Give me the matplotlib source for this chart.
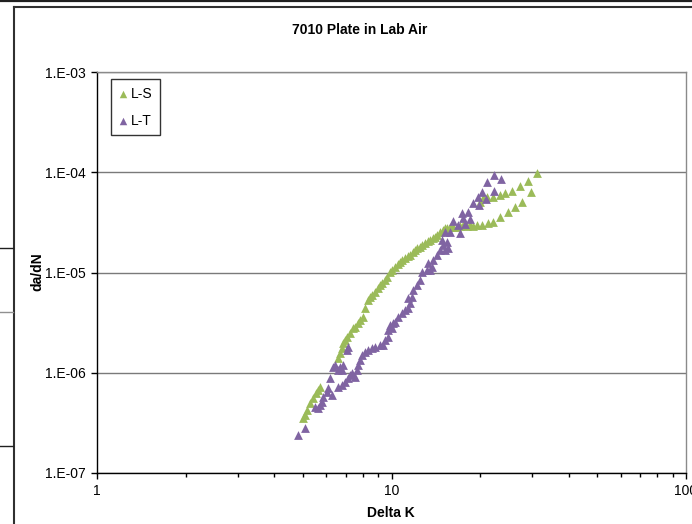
import matplotlib
matplotlib.use("Agg")
import matplotlib.pyplot as plt
from matplotlib.lines import Line2D
from matplotlib.ticker import FixedLocator, NullFormatter

plt.rcParams['font.family'] = ['Liberation Sans', 'DejaVu Sans']

# L-S orientation : Delta K et da/dN
ls_dk = [5.01, 5.09, 5.17, 5.29, 5.41, 5.54, 5.63, 5.72,
         6.58, 6.69, 6.79, 6.84, 6.95, 7.06, 7.23, 7.40, 7.52, 7.70, 7.82, 8.00,
         8.13, 8.32, 8.45, 8.59, 8.79, 9.00, 9.14, 9.29, 9.50, 9.65, 9.88, 10.04,
         10.28, 10.52, 10.69, 10.86, 11.11, 11.38, 11.56, 11.83, 12.02, 12.21,
         12.50, 12.70, 13.00, 13.31, 13.51, 13.83, 14.05, 14.27, 14.61, 14.96,
         15.19, 15.43, 15.80, 16.18, 16.69, 17.08, 17.49, 18.0, 18.48, 18.92,
         19.52, 20.29, 21.27, 22.11, 23.36, 24.86, 26.27, 27.74, 29.77,
         19.98, 20.45, 21.10, 22.11, 23.36, 24.29, 25.66, 27.31, 29.08, 31.20]
ls_dadn = [3.54e-7, 3.79e-7, 4.25e-7, 4.99e-7, 5.60e-7, 6.28e-7, 6.73e-7, 7.21e-7,
           1.40e-6, 1.57e-6, 1.77e-6, 1.98e-6, 2.12e-6, 2.27e-6, 2.49e-6, 2.80e-6,
           2.86e-6, 3.14e-6, 3.36e-6, 3.60e-6, 4.42e-6, 5.32e-6, 5.69e-6, 5.96e-6,
           6.39e-6, 7.00e-6, 7.50e-6, 7.86e-6, 8.42e-6, 9.02e-6, 1.01e-5, 1.06e-5,
           1.13e-5, 1.22e-5, 1.27e-5, 1.33e-5, 1.40e-5, 1.46e-5, 1.50e-5, 1.60e-5,
           1.68e-5, 1.76e-5, 1.80e-5, 1.88e-5, 1.97e-5, 2.06e-5, 2.11e-5, 2.21e-5,
           2.26e-5, 2.37e-5, 2.54e-5, 2.65e-5, 2.78e-5, 2.78e-5, 2.84e-5, 2.84e-5,
           2.84e-5, 2.91e-5, 2.98e-5, 2.91e-5, 2.98e-5, 2.91e-5, 2.98e-5, 2.98e-5,
           3.12e-5, 3.19e-5, 3.58e-5, 4.01e-5, 4.50e-5, 5.05e-5, 6.35e-5,
           5.05e-5, 5.53e-5, 5.66e-5, 5.66e-5, 5.93e-5, 6.21e-5, 6.50e-5, 7.29e-5,
           8.18e-5, 9.83e-5]

# L-T orientation
lt_dk = [4.81, 5.09, 5.50, 5.63, 5.72, 5.81, 5.85, 6.04, 6.09, 6.28, 6.18,
         6.33, 6.43, 6.58, 6.69, 6.79, 6.84, 7.06, 7.12,
         6.58, 6.79, 6.95, 7.12, 7.23, 7.34, 7.52, 7.64, 7.70, 7.82, 7.94, 8.13,
         8.32, 8.59, 8.79, 9.14, 9.36, 9.50, 9.73, 9.73, 9.88, 10.04, 10.12,
         10.28, 10.52, 10.86, 11.11, 11.38, 11.56, 11.38, 11.74, 11.83, 12.21,
         12.50, 12.70, 13.20, 13.51, 13.73, 13.31, 13.83, 14.27, 14.61, 14.96,
         15.19, 15.55, 15.43, 14.84, 15.19, 15.80, 16.18, 16.82, 17.08, 17.35,
         17.49, 17.77, 18.19, 18.48, 18.92, 19.67, 19.83, 20.29, 20.94, 21.10,
         22.29, 22.29, 23.54]
lt_dadn = [2.39e-7, 2.81e-7, 4.55e-7, 4.45e-7, 4.77e-7, 5.11e-7, 5.73e-7, 6.43e-7,
           7.04e-7, 6.00e-7, 8.86e-7,
           1.14e-6, 1.20e-6, 1.07e-6, 1.14e-6, 1.07e-6, 1.20e-6, 1.69e-6, 1.81e-6,
           7.21e-7, 7.55e-7, 8.09e-7, 8.86e-7, 9.50e-7, 9.94e-7, 9.07e-7, 1.07e-6,
           1.20e-6, 1.34e-6, 1.50e-6, 1.61e-6, 1.69e-6, 1.77e-6, 1.81e-6, 1.89e-6,
           1.89e-6, 2.12e-6, 2.27e-6, 2.67e-6, 2.99e-6, 2.80e-6, 3.14e-6, 3.21e-6,
           3.60e-6, 3.94e-6, 4.23e-6, 4.42e-6, 4.96e-6, 5.57e-6, 5.69e-6, 6.69e-6,
           7.50e-6, 8.42e-6, 1.01e-5, 1.06e-5, 1.06e-5, 1.13e-5, 1.24e-5, 1.33e-5,
           1.50e-5, 1.68e-5, 1.88e-5, 1.68e-5, 1.76e-5, 2.01e-5, 2.11e-5, 2.54e-5,
           2.54e-5, 3.26e-5, 2.98e-5, 2.48e-5, 3.92e-5, 3.50e-5, 3.05e-5, 4.01e-5,
           3.42e-5, 4.93e-5, 5.66e-5, 4.71e-5, 6.35e-5, 5.41e-5, 7.99e-5, 9.39e-5,
           6.50e-5, 8.56e-5]

y_ticks = [1e-7, 1e-6, 1e-5, 1e-4, 1e-3]
y_labels = ['1.E-07', '1.E-06', '1.E-05', '1.E-04', '1.E-03']
x_ticks = [1, 10, 100]
x_labels = ['1', '10', '100']

W, H = 692, 524
fig = plt.figure(figsize=(W / 100, H / 100), dpi=100)

# restes de la feuille Excel autour du graphique
fig.add_artist(Line2D([0, 1], [1 - 0.8 / H] * 2, color='#202020', lw=1.6))
fig.add_artist(Line2D([13.5 / W, 1], [1 - 6.5 / H] * 2, color='#303030', lw=1.5))
fig.add_artist(Line2D([13.5 / W] * 2, [0, 1 - 6.5 / H], color='#303030', lw=1.5))
fig.add_artist(Line2D([0, 13 / W], [1 - 248 / H] * 2, color='#202020', lw=1))
fig.add_artist(Line2D([0, 13 / W], [1 - 312 / H] * 2, color='#909090', lw=1))
fig.add_artist(Line2D([0, 13 / W], [1 - 446 / H] * 2, color='#202020', lw=1))

ax = fig.add_axes([97 / W, 1 - 473 / H, (686 - 97) / W, (473 - 72) / H])
ax.set_xscale('log')
ax.set_yscale('log')
ax.set_xlim(1, 100)
ax.set_ylim(1e-7, 1e-3)

ax.scatter(ls_dk, ls_dadn, marker='^', s=40, color='#9BBB59', linewidths=0,
           label='L-S', zorder=3, clip_on=False)
ax.scatter(lt_dk, lt_dadn, marker='^', s=40, color='#8064A2', linewidths=0,
           label='L-T', zorder=4, clip_on=False)

ax.yaxis.set_major_locator(FixedLocator(y_ticks))
ax.set_yticklabels(y_labels)
ax.yaxis.set_minor_locator(FixedLocator([]))
ax.xaxis.set_major_locator(FixedLocator(x_ticks))
ax.set_xticklabels(x_labels)
ax.xaxis.set_minor_locator(FixedLocator([m * d for d in (1, 10) for m in range(2, 10)]))
ax.xaxis.set_minor_formatter(NullFormatter())

ax.grid(True, axis='y', which='major', color='#7a7a7a', lw=1)
ax.set_axisbelow(True)
ax.tick_params(axis='both', which='major', direction='out', length=4,
               width=1, labelsize=10, pad=4, colors='black')
ax.tick_params(axis='x', which='minor', direction='out', length=3, width=1)
for side in ('top', 'right'):
    ax.spines[side].set_color('#8a8a8a')
for side in ('left', 'bottom'):
    ax.spines[side].set_color('black')
for sp in ax.spines.values():
    sp.set_linewidth(1)

for lbl in ax.get_xticklabels():
    lbl.set_clip_on(False)

leg = ax.legend(loc='upper left', bbox_to_anchor=(111 / W, 1 - 79 / H),
                bbox_transform=fig.transFigure, borderaxespad=0, fontsize=10,
                frameon=True, fancybox=False, edgecolor='black',
                handlelength=0.7, handletextpad=0.15, labelspacing=0.95,
                borderpad=0.55, scatterpoints=1, markerscale=0.85)
leg.get_frame().set_linewidth(1)

fig.text(360 / W, 1 - 30 / H, '7010 Plate in Lab Air', ha='center', va='center',
         fontsize=10, fontweight='bold')
fig.text(37 / W, 1 - 272 / H, 'da/dN', ha='center', va='center', rotation=90,
         fontsize=10, fontweight='bold')
fig.text(391 / W, 1 - 513 / H, 'Delta K', ha='center', va='center',
         fontsize=10, fontweight='bold')

fig.savefig('out.png', dpi=100)
